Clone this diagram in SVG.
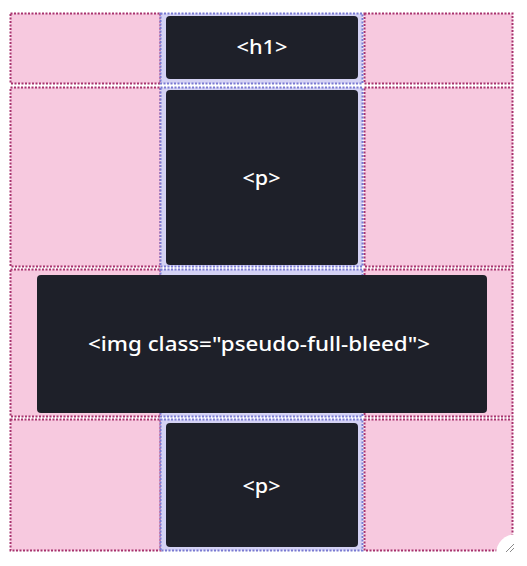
<svg xmlns="http://www.w3.org/2000/svg" width="527" height="566" viewBox="0 0 527 566">
<style>
.pk{fill:#f7c9df;stroke:#a8336e;stroke-width:2;stroke-dasharray:2 1.5}
.lv{fill:#d4d2f4;stroke:#7a7ad2;stroke-width:2;stroke-dasharray:2 1.5}
.box{fill:#1e2029}
.t{fill:#ffffff;font-family:"Noto Sans","Open Sans","DejaVu Sans",sans-serif;font-size:19px;font-weight:500;text-anchor:middle}
</style>
<rect width="527" height="566" fill="#ffffff"/>
<g id="grid">
<rect class="pk" x="10.5" y="13.5" width="150" height="70"/>
<rect class="pk" x="10.5" y="87.5" width="150" height="179"/>
<rect class="pk" x="10.5" y="269.5" width="150" height="147"/>
<rect class="pk" x="10.5" y="419.5" width="150" height="131"/>
<rect class="pk" x="364.5" y="13.5" width="148" height="70"/>
<rect class="pk" x="364.5" y="87.5" width="148" height="179"/>
<rect class="pk" x="364.5" y="269.5" width="148" height="147"/>
<rect class="pk" x="364.5" y="419.5" width="148" height="131"/>
<rect class="lv" x="160.5" y="13.5" width="202" height="70"/>
<rect class="lv" x="160.5" y="87.5" width="202" height="179"/>
<rect class="lv" x="160.5" y="269.5" width="202" height="147"/>
<rect class="lv" x="160.5" y="419.5" width="202" height="131"/>
</g>
<g id="h1">
<rect class="box" x="166" y="16" width="192" height="63" rx="4"/>
<text class="t" x="262" y="54" textLength="51" lengthAdjust="spacingAndGlyphs">&lt;h1&gt;</text>
</g>
<g id="p1">
<rect class="box" x="166" y="90" width="192" height="175" rx="4"/>
<text class="t" x="261.5" y="185" textLength="38" lengthAdjust="spacingAndGlyphs">&lt;p&gt;</text>
</g>
<g id="img">
<rect class="box" x="37" y="275" width="450" height="138" rx="4"/>
<text class="t" x="259" y="351" textLength="342" lengthAdjust="spacingAndGlyphs">&lt;img class="pseudo-full-bleed"&gt;</text>
</g>
<g id="p2">
<rect class="box" x="166" y="423" width="192" height="124" rx="4"/>
<text class="t" x="261.5" y="493" textLength="38" lengthAdjust="spacingAndGlyphs">&lt;p&gt;</text>
</g>
<g id="handle">
<circle cx="516" cy="554" r="20" fill="#ffffff"/>
<path d="M506 552 L514 544 M510 552 L514 548" stroke="#8a8a8a" stroke-width="1" fill="none"/>
</g>
</svg>
